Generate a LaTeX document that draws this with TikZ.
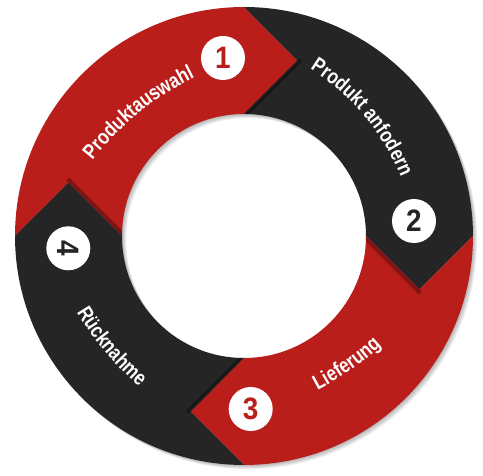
\documentclass[tikz,border=0pt]{standalone}
\usepackage{fontspec}
\setmainfont{Liberation Sans}
\newfontfamily\lblfont{Liberation Sans}[FakeStretch=0.82]
\newfontfamily\numfont{Liberation Sans}[FakeStretch=0.9]
\usetikzlibrary{calc,decorations.text}
\definecolor{ringred}{RGB}{185,30,27}
\definecolor{ringdark}{RGB}{37,37,37}

\begin{document}
\begin{tikzpicture}[
x=1pt, y=1pt,
numdot/.style={circle, fill=white, minimum size=44pt, inner sep=0pt, font=\numfont\bfseries\fontsize{31}{31}\selectfont},
ringshadow/.style={fill=black, opacity=0.05, even odd rule},
headshadow/.style={fill=black, opacity=0.3},
steplabel/.style={decorate, decoration={text along path, text align=center, text color=white, text={|\lblfont\bfseries\fontsize{21}{21}\selectfont|#1}}}
]
\useasboundingbox (-244,-240) rectangle (239,236);

\foreach \i in {1,...,6}
  \fill[ringshadow, shift={(0.7*\i,-0.7*\i)}] (0,0) circle (229) (0,0) circle (122);

\foreach \a/\col in {180/ringred, 90/ringdark, 0/ringred, -90/ringdark}
  \fill[\col] (\a:229) arc[start angle=\a, end angle=\a-90, radius=229]
    -- (\a-106.95:183.47) -- (\a-90:122)
    arc[start angle=\a-90, end angle=\a, radius=122]
    -- (\a-16.95:183.47) -- cycle;

\begin{scope}[even odd rule]
\clip (0,0) circle (229) (0,0) circle (122);
\foreach \a in {90,0,-90,180}
  \fill[headshadow] (\a:122) -- ($(\a-16.95:183.47)+(\a-45:3)$)
    -- ($(\a-16.95:183.47)+(\a-45:3)+(\a-135:4)$) -- ($(\a:122)+(\a-135:4)$) -- cycle;
\end{scope}

\path[steplabel=Produktauswahl] ($(-105,123)+(-51:300)+(149:300)$) arc[start angle=149, end angle=109, radius=300];
\path[steplabel=Produkt anfodern] ($(120,120)+(-140:230)+(62:230)$) arc[start angle=62, end angle=18, radius=230];
\path[steplabel=Lieferung] ($(107,-134)+(125:300)+(-70:300)$) arc[start angle=-70, end angle=-40, radius=300];
\path[steplabel=Rücknahme] ($(-139,-116)+(40:300)+(-158:300)$) arc[start angle=-158, end angle=-122, radius=300];

\node[numdot, text=ringred] (n1) at (-21,178) {1};
\node[numdot, text=ringdark] (n2) at (170,15) {2};
\node[numdot, text=ringred] (n3) at (6.7,-173) {3};
\node[numdot, text=ringdark, rotate=-90] (n4) at (-175.7,-12.3) {4};
\end{tikzpicture}
\end{document}
